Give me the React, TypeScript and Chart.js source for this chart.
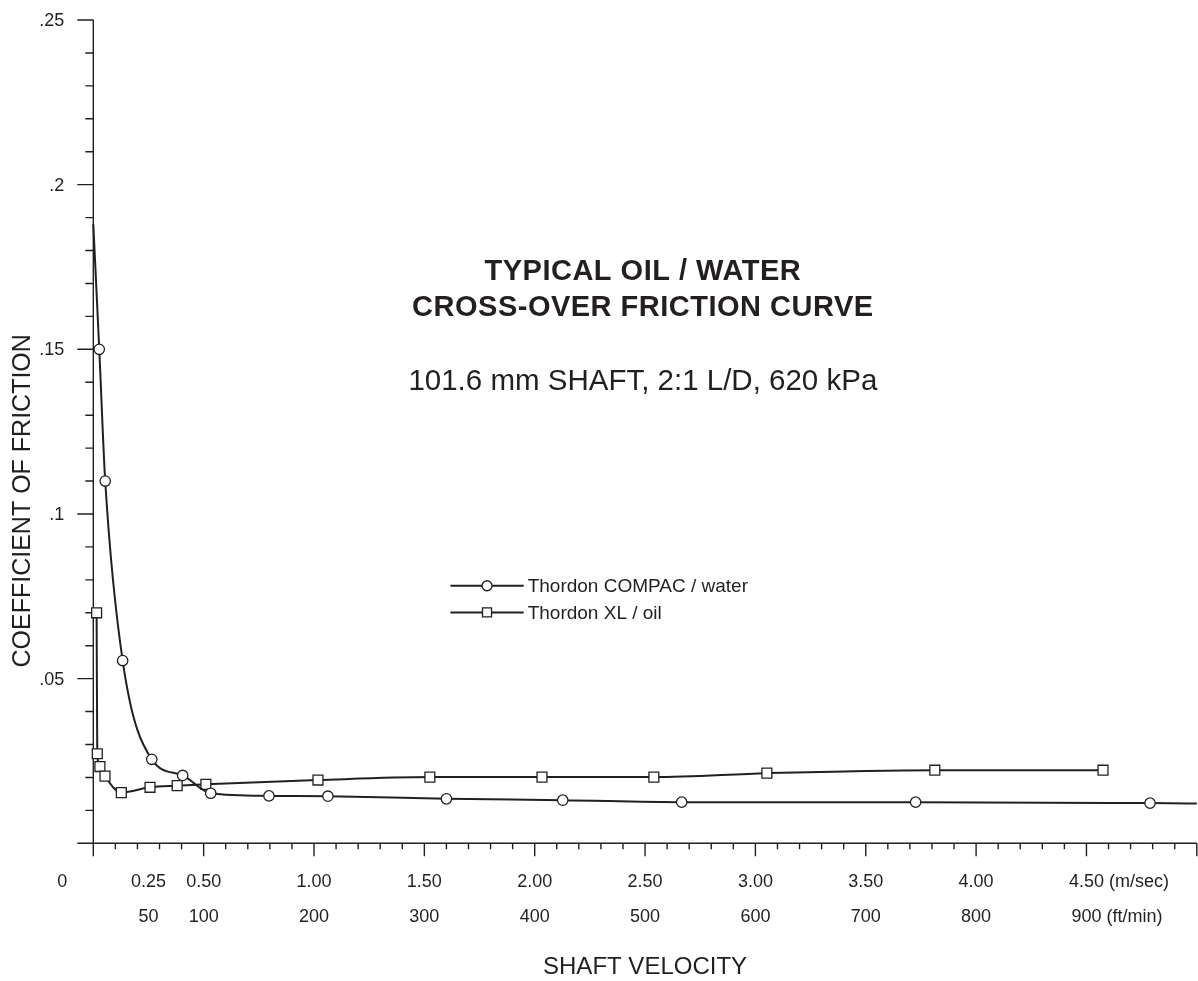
import { useEffect, useRef } from "react";
import { Chart, registerables } from "chart.js";

Chart.register(...registerables);

const INK = "#231f20";
const FONT = '"Liberation Sans", Arial, Helvetica, sans-serif';

// Axis ranges
const X_MAX = 5.0;
const Y_MAX = 0.25;

// Thordon COMPAC running in water: shaft velocity (m/sec) vs coefficient of friction.
// The first and last entries are where the fitted curve meets the frame (no marker there).
const compacVelocity = [0, 0.027, 0.054, 0.133, 0.265, 0.405, 0.532, 0.796, 1.063, 1.6, 2.127, 2.666, 3.726, 4.788, 5.0];
const compacFriction = [0.188, 0.15, 0.11, 0.0555, 0.0255, 0.0206, 0.0152, 0.0144, 0.0143, 0.0135, 0.0131, 0.0125, 0.0125, 0.0122, 0.0121];

// Thordon XL running in oil
const xlVelocity = [0.015, 0.018, 0.03, 0.053, 0.127, 0.257, 0.38, 0.51, 1.018, 1.525, 2.033, 2.54, 3.052, 3.813, 4.575];
const xlFriction = [0.07, 0.0272, 0.0233, 0.0204, 0.0154, 0.017, 0.0175, 0.0179, 0.0192, 0.0201, 0.0201, 0.0201, 0.0213, 0.0222, 0.0222];

const seriesNames = ["Thordon COMPAC / water", "Thordon XL / oil"];

// Y axis labels
const yLabelValues = [0.05, 0.1, 0.15, 0.2, 0.25];
const yLabelTexts = [".05", ".1", ".15", ".2", ".25"];

// X axis labels: metric row and imperial row share anchors
const xLabelValues = [0.25, 0.5, 1.0, 1.5, 2.0, 2.5, 3.0, 3.5, 4.0, 4.5];
const msLabels = ["0.25", "0.50", "1.00", "1.50", "2.00", "2.50", "3.00", "3.50", "4.00", "4.50"];
const ftLabels = ["50", "100", "200", "300", "400", "500", "600", "700", "800", "900"];
const msUnit = " (m/sec)";
const ftUnit = " (ft/min)";

const titleLines = ["TYPICAL OIL / WATER", "CROSS-OVER FRICTION CURVE"];
const subtitle = "101.6 mm SHAFT, 2:1 L/D, 620 kPa";
const yTitle = "COEFFICIENT OF FRICTION";
const xTitle = "SHAFT VELOCITY";

const toPoints = (xs: number[], ys: number[]) => xs.map((v, i) => ({ x: v, y: ys[i] }));

function drawMarker(ctx: CanvasRenderingContext2D, style: string, cx: number, cy: number) {
  ctx.save();
  ctx.fillStyle = "#ffffff";
  ctx.strokeStyle = INK;
  ctx.lineWidth = 1.3;
  ctx.beginPath();
  if (style === "circle") {
    ctx.arc(cx, cy, 5, 0, Math.PI * 2);
  } else {
    ctx.rect(cx - 4.5, cy - 4.5, 9, 9);
  }
  ctx.fill();
  ctx.stroke();
  ctx.restore();
}

const frame = {
  id: "frictionFrame",
  beforeDatasetsDraw(chart: any) {
    const { ctx } = chart;
    const xs = chart.scales.x;
    const ys = chart.scales.y;
    const x0 = xs.getPixelForValue(0);
    const y0 = ys.getPixelForValue(0);
    ctx.save();
    ctx.strokeStyle = INK;
    ctx.lineWidth = 1.4;
    ctx.beginPath();
    // axis lines
    ctx.moveTo(x0, ys.getPixelForValue(Y_MAX));
    ctx.lineTo(x0, y0);
    ctx.moveTo(x0, y0);
    ctx.lineTo(xs.getPixelForValue(X_MAX), y0);
    // y ticks every 0.01, long every 0.05
    for (let i = 0; i <= 25; i++) {
      const py = ys.getPixelForValue(i / 100);
      const len = i % 5 === 0 ? 16 : 8;
      ctx.moveTo(x0 - len, py);
      ctx.lineTo(x0, py);
    }
    // x ticks every 0.1, long every 0.5
    for (let i = 0; i <= 50; i++) {
      const px = xs.getPixelForValue(i / 10);
      const len = i % 5 === 0 ? 13 : 6;
      ctx.moveTo(px, y0);
      ctx.lineTo(px, y0 + len);
    }
    ctx.stroke();

    ctx.fillStyle = INK;
    ctx.font = `18px ${FONT}`;
    ctx.textBaseline = "middle";
    ctx.textAlign = "right";
    yLabelValues.forEach((v, i) => {
      ctx.fillText(yLabelTexts[i], x0 - 29, ys.getPixelForValue(v) + 1);
    });
    const row1 = y0 + 39;
    const row2 = y0 + 74;
    ctx.fillText("0", x0 - 26, row1);

    ctx.textAlign = "center";
    xLabelValues.forEach((v, i) => {
      const px = xs.getPixelForValue(v);
      ctx.fillText(msLabels[i], px, row1);
      ctx.fillText(ftLabels[i], px, row2);
      if (i === xLabelValues.length - 1) {
        ctx.textAlign = "left";
        ctx.fillText(msUnit, px + ctx.measureText(msLabels[i]).width / 2, row1);
        ctx.fillText(ftUnit, px + ctx.measureText(ftLabels[i]).width / 2, row2);
        ctx.textAlign = "center";
      }
    });

    // axis titles
    ctx.font = `24px ${FONT}`;
    ctx.fillText(xTitle, xs.getPixelForValue(2.5), y0 + 124);
    ctx.save();
    ctx.translate(23, ys.getPixelForValue(0.104));
    ctx.rotate(-Math.PI / 2);
    ctx.font = `25px ${FONT}`;
    ctx.fillText(yTitle, 0, 0);
    ctx.restore();

    // chart heading
    const cx = xs.getPixelForValue(2.49);
    ctx.font = `bold 29px ${FONT}`;
    ctx.letterSpacing = "0.5px";
    ctx.fillText(titleLines[0], cx, ys.getPixelForValue(0.1735));
    ctx.fillText(titleLines[1], cx, ys.getPixelForValue(0.1625));
    ctx.letterSpacing = "0px";
    ctx.font = `29.5px ${FONT}`;
    ctx.fillText(subtitle, cx, ys.getPixelForValue(0.1402));
    ctx.restore();
  },
  afterDraw(chart: any) {
    const { ctx } = chart;
    const xs = chart.scales.x;
    const ys = chart.scales.y;
    // in-plot key
    const left = xs.getPixelForValue(1.618);
    const right = xs.getPixelForValue(1.95);
    const rows = [ys.getPixelForValue(0.0782), ys.getPixelForValue(0.0701)];
    const styles = ["circle", "rect"];
    ctx.save();
    rows.forEach((py, i) => {
      ctx.strokeStyle = INK;
      ctx.lineWidth = 2;
      ctx.beginPath();
      ctx.moveTo(left, py);
      ctx.lineTo(right, py);
      ctx.stroke();
      drawMarker(ctx, styles[i], (left + right) / 2, py);
      ctx.fillStyle = INK;
      ctx.font = `19px ${FONT}`;
      ctx.textAlign = "left";
      ctx.textBaseline = "middle";
      ctx.fillText(seriesNames[i], right + 4, py + 1);
    });
    ctx.restore();
  },
};

export default function App() {
  const canvasRef = useRef<HTMLCanvasElement | null>(null);

  useEffect(() => {
    document.body.style.margin = "0";
    const canvas = canvasRef.current;
    if (!canvas) return;
    const lastCompac = compacVelocity.length - 1;
    const chart = new Chart(canvas, {
      type: "line",
      data: {
        datasets: [
          {
            label: seriesNames[0],
            data: toPoints(compacVelocity, compacFriction),
            borderColor: INK,
            borderWidth: 2,
            backgroundColor: "#ffffff",
            pointStyle: "circle",
            pointRadius: (c: any) => (c.dataIndex === 0 || c.dataIndex === lastCompac ? 0 : 5.2),
            pointBorderWidth: 1.3,
            pointBorderColor: INK,
            pointBackgroundColor: "#ffffff",
            cubicInterpolationMode: "monotone",
            clip: false,
          },
          {
            label: seriesNames[1],
            data: toPoints(xlVelocity, xlFriction),
            borderColor: INK,
            borderWidth: 2,
            backgroundColor: "#ffffff",
            pointStyle: "rect",
            pointRadius: 7,
            pointBorderWidth: 1.3,
            pointBorderColor: INK,
            pointBackgroundColor: "#ffffff",
            cubicInterpolationMode: "monotone",
            clip: false,
          },
        ],
      },
      options: {
        animation: false,
        responsive: false,
        devicePixelRatio: 1,
        layout: { autoPadding: false, padding: { left: 93.3, right: 1.2, top: 20, bottom: 137.7 } },
        plugins: { legend: { display: false }, tooltip: { enabled: false }, title: { display: false } },
        events: [],
        scales: {
          x: { type: "linear", min: 0, max: X_MAX, display: false },
          y: { type: "linear", min: 0, max: Y_MAX, display: false },
        },
      },
      plugins: [frame],
    } as any);
    return () => chart.destroy();
  }, []);

  return (
    <div style={{ width: 1198, height: 981, background: "#ffffff" }}>
      <canvas ref={canvasRef} width={1198} height={981} style={{ display: "block" }} />
    </div>
  );
}
